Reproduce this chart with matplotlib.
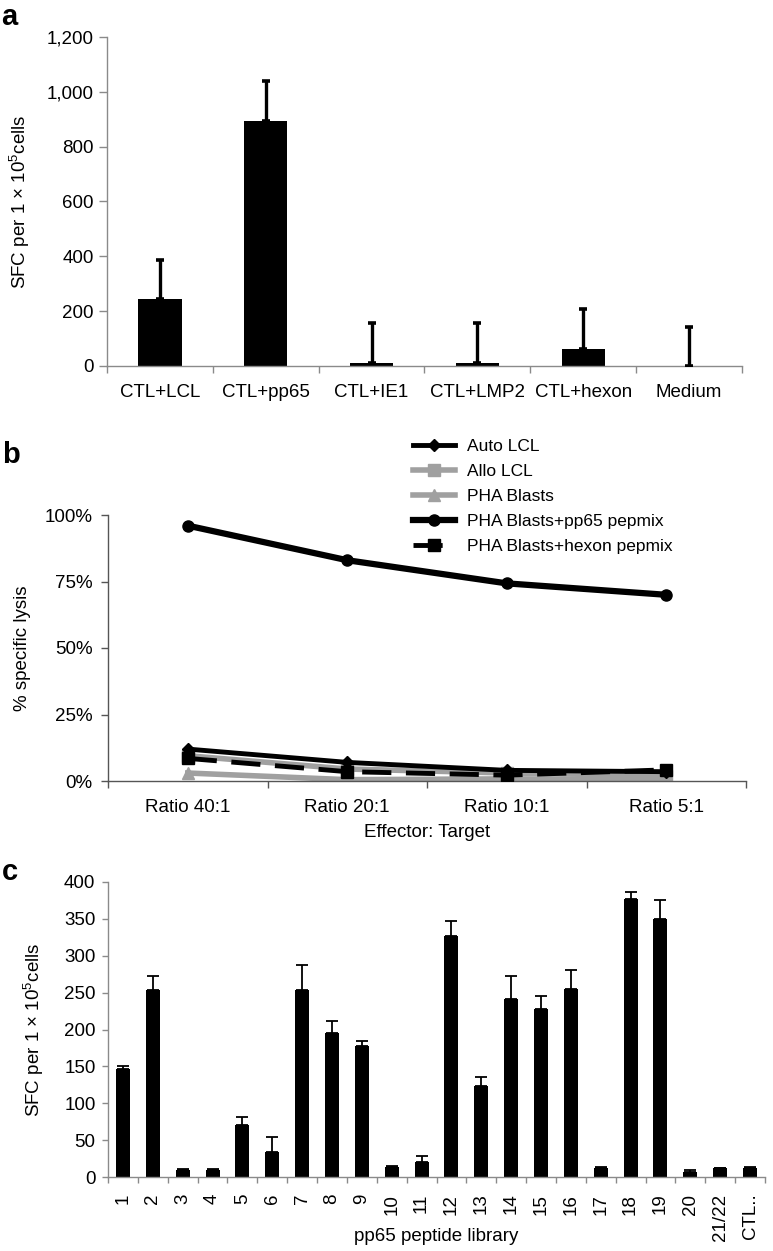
import numpy as np
import matplotlib
matplotlib.use("Agg")
import matplotlib.pyplot as plt

plt.rcParams['font.family'] = ['Liberation Sans', 'DejaVu Sans']
plt.rcParams['mathtext.fontset'] = 'custom'
plt.rcParams['mathtext.rm'] = 'Liberation Sans'
plt.rcParams['mathtext.it'] = 'Liberation Sans'
plt.rcParams['mathtext.bf'] = 'Liberation Sans:bold'

# ---------------- data ----------------
# Panel a
a_categories = ['CTL+LCL', 'CTL+pp65', 'CTL+IE1', 'CTL+LMP2', 'CTL+hexon', 'Medium']
a_values = [244, 894, 12, 12, 62, 0]
a_errors = [143, 146, 145, 145, 146, 142]
a_yticks = [0, 200, 400, 600, 800, 1000, 1200]

# Panel b
b_ratios = ['Ratio 40:1', 'Ratio 20:1', 'Ratio 10:1', 'Ratio 5:1']
b_auto_lcl = [12.0, 7.0, 4.0, 3.5]
b_allo_lcl = [9.5, 4.5, 3.0, 2.0]
b_pha_blasts = [3.0, 0.5, 0.8, 0.5]
b_pp65 = [96.0, 83.0, 74.3, 70.0]
b_hexon = [8.5, 3.5, 2.2, 4.2]
b_series_names = ['Auto LCL', 'Allo LCL', 'PHA Blasts',
                  'PHA Blasts+pp65 pepmix', 'PHA Blasts+hexon pepmix']
b_yticks = [0, 25, 50, 75, 100]

# Panel c
c_labels = [str(i) for i in range(1, 21)] + ['21/22', 'CTL..']
c_values = [146, 254, 10, 10, 70, 34, 254, 195, 177, 13.5, 21,
            327, 124, 241, 228, 255, 12.5, 377, 350, 7, 12, 12.5]
c_errors = [4, 19, 1, 0.5, 11, 20, 33, 17, 7, 1, 8,
            20, 11, 32, 18, 26, 0.5, 9, 26, 2, 0.7, 0.5]
c_yticks = [0, 50, 100, 150, 200, 250, 300, 350, 400]

# ---------------- figure ----------------
W, H = 773, 1251
fig = plt.figure(figsize=(W / 100, H / 100), dpi=100)

def px_axes(left, top, right, bottom):
    return fig.add_axes([left / W, 1 - bottom / H, (right - left) / W, (bottom - top) / H])

ylab = 'SFC per 1 × 10$^{5}$cells'
TICKFS = 13.5

def style_axes(ax, spine_color):
    for s in ['top', 'right']:
        ax.spines[s].set_visible(False)
    for s in ['left', 'bottom']:
        ax.spines[s].set_color(spine_color)
        ax.spines[s].set_linewidth(1.0)
    ax.tick_params(axis='both', which='both', colors=spine_color, labelcolor='black',
                   labelsize=TICKFS, direction='out', width=1.0)

# ---- Panel a ----
axa = px_axes(107, 37, 742, 366)
style_axes(axa, '#8a8a8a')
xa = np.arange(len(a_categories))
axa.bar(xa, a_values, width=0.41, color='black', zorder=2)
axa.errorbar(xa, a_values, yerr=[np.zeros(len(a_errors)), a_errors], fmt='none',
             ecolor='black', elinewidth=2.4, capsize=3.2, capthick=2.6, zorder=3)
axa.set_xlim(-0.5, len(a_categories) - 0.5)
axa.set_ylim(0, 1200)
axa.set_yticks(a_yticks)
axa.set_yticklabels([f'{v:,}' for v in a_yticks])
axa.set_xticks(xa)
axa.set_xticklabels(a_categories)
axa.set_xticks(np.arange(-0.5, len(a_categories), 1), minor=True)
axa.tick_params(axis='x', which='major', length=0, pad=13)
axa.tick_params(axis='x', which='minor', length=5)
axa.tick_params(axis='y', which='major', length=5.5, pad=4)
axa.set_ylabel(ylab, fontsize=13.5)
axa.yaxis.set_label_coords(-0.118, 0.5)
fig.text(1 / W, 1 - 25 / H, 'a', fontsize=21, fontweight='bold', ha='left', va='baseline')

# ---- Panel b ----
axb = px_axes(108, 515, 746, 781)
style_axes(axb, '#555555')
xb = np.arange(len(b_ratios))
gray = '#a0a0a0'
l_allo, = axb.plot(xb, b_allo_lcl, color=gray, lw=4, marker='s', ms=8, zorder=2,
                   label=b_series_names[1])
l_pha, = axb.plot(xb, b_pha_blasts, color=gray, lw=4, marker='^', ms=8, zorder=2,
                  label=b_series_names[2])
l_hex, = axb.plot(xb, b_hexon, color='black', lw=3.5, marker='s', ms=8, zorder=3,
                  label=b_series_names[4])
l_hex.set_dashes([6, 3])
l_auto, = axb.plot(xb, b_auto_lcl, color='black', lw=3.5, marker='D', ms=6, zorder=4,
                   label=b_series_names[0])
l_pp, = axb.plot(xb, b_pp65, color='black', lw=4.5, marker='o', ms=8, zorder=5,
                 label=b_series_names[3])
axb.set_xlim(-0.5, len(b_ratios) - 0.5)
axb.set_ylim(0, 100)
axb.set_yticks(b_yticks)
axb.set_yticklabels([f'{v}%' for v in b_yticks])
axb.set_xticks(xb)
axb.set_xticklabels(b_ratios)
axb.set_xticks(np.arange(-0.5, len(b_ratios), 1), minor=True)
axb.tick_params(axis='x', which='major', length=0, pad=13)
axb.tick_params(axis='x', which='minor', length=5)
axb.tick_params(axis='y', which='major', length=5, pad=6)
axb.set_ylabel('% specific lysis', fontsize=13.5)
axb.yaxis.set_label_coords(-0.12, 0.5)
axb.set_xlabel('Effector: Target', fontsize=13.5)
axb.xaxis.set_label_coords(0.5, -0.16)
axb.legend(handles=[l_auto, l_allo, l_pha, l_pp, l_hex], loc='upper left',
           bbox_to_anchor=(413 / W, 1 - 439 / H), bbox_transform=fig.transFigure,
           frameon=False, fontsize=12.5, borderpad=0, borderaxespad=0,
           handlelength=2.4, handletextpad=0.7, labelspacing=0.56)
fig.text(2 / W, 1 - 463 / H, 'b', fontsize=21, fontweight='bold', ha='left', va='baseline')

# ---- Panel c ----
axc = px_axes(108, 882, 765, 1177)
style_axes(axc, '#8a8a8a')
xc = np.arange(len(c_labels))
axc.bar(xc, c_values, width=0.47, color='black', zorder=2)
axc.errorbar(xc, c_values, yerr=[np.zeros(len(c_errors)), c_errors], fmt='none',
             ecolor='black', elinewidth=1.3, capsize=4.3, capthick=1.3, zorder=3)
axc.set_xlim(-0.5, len(c_labels) - 0.5)
axc.set_ylim(0, 400)
axc.set_yticks(c_yticks)
axc.set_xticks(xc)
axc.set_xticklabels(c_labels, rotation=90)
axc.set_xticks(np.arange(-0.5, len(c_labels), 1), minor=True)
axc.tick_params(axis='x', which='major', length=0, pad=12)
axc.tick_params(axis='x', which='minor', length=4.5)
axc.tick_params(axis='y', which='major', length=4.5, pad=4.5)
axc.set_ylabel(ylab, fontsize=13.5)
axc.yaxis.set_label_coords(-0.095, 0.5)
axc.set_xlabel('pp65 peptide library', fontsize=13.5)
axc.xaxis.set_label_coords(0.5, -0.174)
fig.text(2 / W, 1 - 880 / H, 'c', fontsize=21, fontweight='bold', ha='left', va='baseline')

fig.savefig('out.png', dpi=100)
